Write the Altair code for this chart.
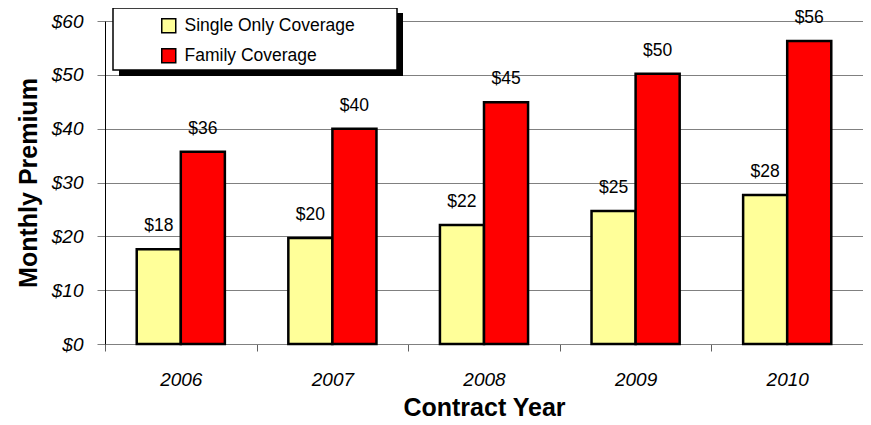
import altair as alt
import pandas as pd

years = ["2006", "2007", "2008", "2009", "2010"]
single = [17.6, 19.7, 22.1, 24.7, 27.7]
family = [35.7, 40.0, 44.9, 50.2, 56.3]
series = ["Single Only Coverage", "Family Coverage"]
colors = ["#FFFF99", "#FF0000"]

rows = []
for i, y in enumerate(years):
    rows.append({"year": y, "series": series[0], "value": single[i]})
    rows.append({"year": y, "series": series[1], "value": family[i]})
df = pd.DataFrame(rows)

FONT = "Liberation Sans"

x_enc = alt.X("year:N", sort=years,
              scale=alt.Scale(paddingInner=0, paddingOuter=0),
              axis=alt.Axis(title="Contract Year", labelAngle=0, tickBand="extent",
                            labelFont=FONT, labelFontSize=19, labelFontStyle="italic",
                            labelColor="black", labelPadding=19,
                            titleFont=FONT, titleFontSize=25, titleFontWeight="bold",
                            titleColor="black", titlePadding=6,
                            domainColor="#808080", tickColor="#606060", tickSize=7,
                            grid=False))
xo_enc = alt.XOffset("series:N", sort=series,
                     scale=alt.Scale(paddingInner=0, paddingOuter=0.72))
y_enc = alt.Y("value:Q",
              scale=alt.Scale(domain=[0, 60], nice=False),
              axis=alt.Axis(title="Monthly Premium", values=[0, 10, 20, 30, 40, 50, 60],
                            format="$.0f", labelFont=FONT, labelFontSize=19,
                            labelFontStyle="italic", labelColor="black", labelPadding=14,
                            titleFont=FONT, titleFontSize=25, titleFontWeight="bold",
                            titleColor="black", titlePadding=10,
                            domainColor="black", domainWidth=1,
                            tickColor="#808080", tickSize=8,
                            gridColor="#808080", gridWidth=1))

base = alt.Chart(df)

bars = base.mark_bar(stroke="black", strokeWidth=2.5).encode(
    x=x_enc, xOffset=xo_enc, y=y_enc,
    color=alt.Color("series:N", sort=series,
                    scale=alt.Scale(domain=series, range=colors),
                    legend=alt.Legend(title=None, orient="none", legendX=55, legendY=-4,
                                      direction="vertical", padding=0,
                                      symbolType="square", symbolSize=196,
                                      symbolStrokeColor="black", symbolStrokeWidth=1.5,
                                      symbolOpacity=1,
                                      labelFont=FONT, labelFontSize=17.5, labelColor="black",
                                      labelOffset=7, rowPadding=9, labelLimit=400)),
)

labels = base.mark_text(font=FONT, fontSize=17.5, color="black", baseline="alphabetic",
                        dy=-18).encode(
    x=alt.X("year:N", sort=years), xOffset=alt.XOffset("series:N", sort=series),
    y="value:Q",
    text=alt.Text("value:Q", format="$.0f"),
)

one = alt.Data(values=[{"k": 1}])
shadow = alt.Chart(one).mark_rect(color="black").encode(
    x=alt.value(14), x2=alt.value(298), y=alt.value(-8), y2=alt.value(55))
box = alt.Chart(one).mark_rect(fill="white", stroke="black", strokeWidth=1.5).encode(
    x=alt.value(8), x2=alt.value(292), y=alt.value(-13), y2=alt.value(49))

chart = alt.layer(shadow, box, bars, labels).properties(
    width=758, height=323,
    autosize=alt.AutoSizeParams(type="none"),
    padding={"left": 97, "top": 13, "right": 0, "bottom": 80},
).configure_view(stroke=None).configure(background="white")

chart.save("out.html", embed_options={"renderer": "svg", "actions": False})
